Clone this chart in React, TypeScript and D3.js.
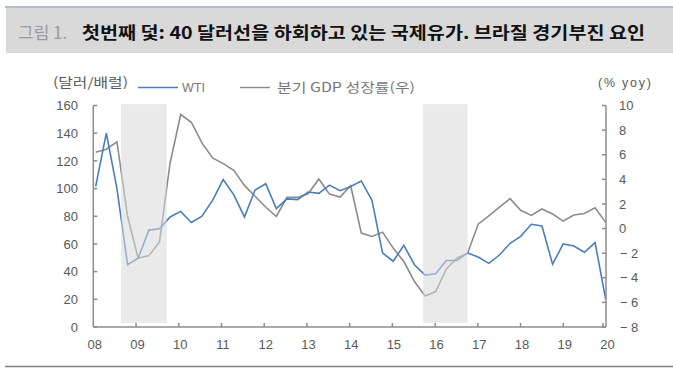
import * as d3 from 'd3';

// quarterly, 2008Q1 .. 2020Q1 (end of quarter)
const years = d3.range(2008, 2021);
const quarters = years.flatMap((y) => (y < 2020 ? [1, 2, 3, 4] : [1]).map((q) => `${y}Q${q}`));

// WTI, $/bbl (left axis)
const wti = [
  101.6, 140, 100, 45, 49.7, 70, 71, 79.5, 83.5, 75.5, 80, 91.5, 106.5, 95.5, 79.5, 99,
  103.5, 85.5, 92.5, 92, 97.5, 96.5, 102.5, 98.5, 101.5, 105.5, 91.5, 53.5, 47.5, 59, 45, 37.5,
  38.5, 48, 48, 53.5, 50.5, 46, 52, 60.5, 65.5, 74.2, 73, 45.4, 60, 58.5, 54, 61, 20,
];

// Brazil quarterly GDP growth, % yoy (right axis)
const gdp = [
  6.2, 6.45, 7.04, 1.0, -2.42, -2.2, -1.1, 5.33, 9.27, 8.64, 6.96, 5.74, 5.28, 4.73, 3.51, 2.62,
  1.75, 0.98, 2.53, 2.53, 2.83, 4.03, 2.8, 2.56, 3.48, -0.37, -0.64, -0.29, -1.59, -2.68, -4.31, -5.48,
  -5.12, -3.28, -2.41, -2.0, 0.36, 1.04, 1.75, 2.43, 1.48, 1.07, 1.59, 1.18, 0.61, 1.1, 1.23, 1.69, 0.5,
];

// shaded periods (in years)
const shades = [
  [2008.65, 2009.72],
  [2015.72, 2016.76],
];

const yearLabels = ['08', '09', '10', '11', '12', '13', '14', '15', '16', '17', '18', '19', '20'];

const W = 673;
const H = 371;
const axisColor = '#8c8c8c';
const labelColor = '#595959';
const numFont = "Arial, 'Liberation Sans', 'Noto Sans CJK KR', sans-serif";
const krFont = "'Noto Sans CJK KR', 'Noto Sans', sans-serif";

export default function App() {
  const xQ = d3.scaleLinear().domain([0, quarters.length - 1]).range([95.7, 605.7]);
  const xYear = d3.scaleLinear().domain([2008, 2020]).range([93.3, 606]);
  const yL = d3.scaleLinear().domain([0, 160]).range([327, 105.5]);
  const yR = d3.scaleLinear().domain([-8, 10]).range([327, 105.5]);

  const wtiLine = d3
    .line<number>()
    .x((_, i) => xQ(i))
    .y((d) => yL(d));
  const gdpLine = d3
    .line<number>()
    .x((_, i) => xQ(i))
    .y((d) => yR(d));

  const [x0, x1] = xYear.range();
  const [yBottom, yTop] = yL.range();

  return (
    <svg
      width={W}
      height={H}
      style={{ position: 'absolute', left: 0, top: 0, background: '#fff' }}
    >
      {/* title bar */}
      <line x1={5} x2={W} y1={7} y2={7} stroke="#9aa6b4" strokeWidth={1.5} />
      <rect x={6} y={8} width={W - 6} height={45} fill="#d9d9d9" />
      <text x={18} y={39} fontFamily={krFont} fontSize={17} fill="#9a9a9a">
        그림 1.
      </text>
      <text
        x={82}
        y={39}
        fontFamily={krFont}
        fontSize={17}
        fontWeight={700}
        fill="#111"
        textLength={563}
        lengthAdjust="spacingAndGlyphs"
      >
        첫번째 덫: 40 달러선을 하회하고 있는 국제유가. 브라질 경기부진 요인
      </text>

      {/* legend */}
      <text
        x={53}
        y={87}
        fontFamily={krFont}
        fontSize={13}
        fill={labelColor}
        textLength={75}
        lengthAdjust="spacingAndGlyphs"
      >
        (달러/배럴)
      </text>
      <line x1={138} x2={178} y1={87.5} y2={87.5} stroke="#4a7ebb" strokeWidth={1.5} />
      <text x={182} y={92} fontFamily={numFont} fontSize={12.5} fill="#777" textLength={23}>
        WTI
      </text>
      <line x1={240} x2={270} y1={87.5} y2={87.5} stroke="#8c8c8c" strokeWidth={1.5} />
      <text
        x={277}
        y={92}
        fontFamily={krFont}
        fontSize={13}
        fill="#777"
        textLength={138}
        lengthAdjust="spacingAndGlyphs"
      >
        분기 GDP 성장률(우)
      </text>
      <text x={598} y={87} fontFamily={numFont} fontSize={12.5} fill={labelColor} textLength={53}>
        (% yoy)
      </text>

      {/* series */}
      <path d={gdpLine(gdp) ?? ''} fill="none" stroke="#8c8c8c" strokeWidth={1.6} />
      <path d={wtiLine(wti) ?? ''} fill="none" stroke="#4a7ebb" strokeWidth={1.6} />

      {/* shaded periods, over the lines */}
      {shades.map(([a, b], i) => (
        <rect
          key={i}
          x={xYear(a)}
          y={yL(161)}
          width={xYear(b) - xYear(a)}
          height={yL(3) - yL(161)}
          fill="#d9d9d9"
          fillOpacity={0.55}
        />
      ))}

      {/* axes */}
      <g stroke={axisColor} strokeWidth={1.5} fill="none">
        <line x1={x0} x2={x0} y1={yTop} y2={yBottom} />
        <line x1={x1} x2={x1} y1={yTop} y2={yBottom} />
        <line x1={x0} x2={x1} y1={yBottom} y2={yBottom} />
        {yL.ticks(8).map((v) => (
          <line key={'l' + v} x1={x0} x2={x0 + 4} y1={yL(v)} y2={yL(v)} />
        ))}
        {yR.ticks(9).map((v) => (
          <line key={'r' + v} x1={x1 - 4} x2={x1} y1={yR(v)} y2={yR(v)} />
        ))}
        {years.slice(1).map((y) => (
          <line key={'x' + y} x1={xYear(y) - (y === 2020 ? 3 : 0)} x2={xYear(y) - (y === 2020 ? 3 : 0)} y1={yBottom} y2={yBottom - 4} />
        ))}
      </g>

      {/* left tick labels */}
      <g fontFamily={numFont} fontSize={13} fill={labelColor}>
        {yL.ticks(8).map((v) => (
          <text key={v} x={78} y={yL(v)} dy="0.36em" textAnchor="end">
            {v}
          </text>
        ))}
      </g>

      {/* right tick labels */}
      <g fontFamily={numFont} fontSize={13} fill={labelColor}>
        {yR.ticks(9).map((v) =>
          v < 0 ? (
            <text key={v} x={620} y={yR(v)} dy="0.36em">
              <tspan>−</tspan>
              <tspan x={631}>{Math.abs(v)}</tspan>
            </text>
          ) : (
            <text key={v} x={619} y={yR(v)} dy="0.36em">
              {v}
            </text>
          )
        )}
      </g>

      {/* x tick labels */}
      <g fontFamily={numFont} fontSize={13} fill={labelColor} textAnchor="middle">
        {years.map((y, i) => (
          <text key={y} x={xYear(y) + 1.5} y={349}>
            {yearLabels[i]}
          </text>
        ))}
      </g>

      {/* bottom rule */}
      <line x1={5} x2={W} y1={366.5} y2={366.5} stroke="#7f7f7f" strokeWidth={1.5} />
    </svg>
  );
}
